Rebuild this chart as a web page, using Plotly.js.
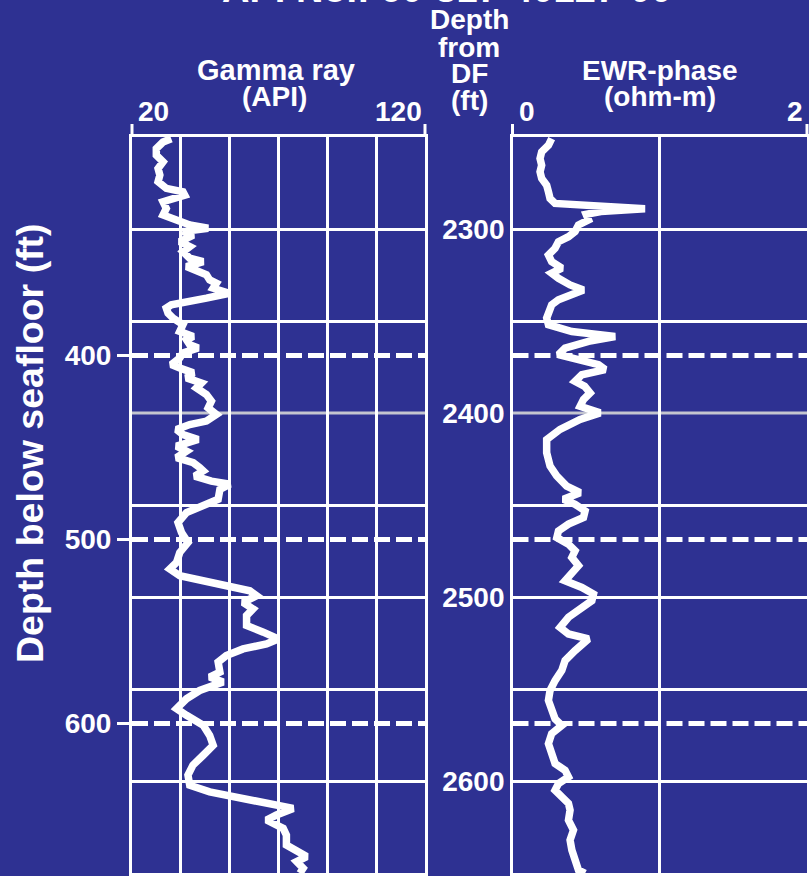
<!DOCTYPE html>
<html>
<head>
<meta charset="utf-8">
<script src="https://cdn.plot.ly/plotly-3.0.1.min.js"></script>
<style>html,body{margin:0;padding:0;background:#2e3192;}#chart{width:809px;height:876px;}</style>
</head>
<body>
<div id="chart"></div>
<script>
// ---------------- DATA ----------------
// Gamma ray log: depth from drill floor (ft) and value (API)
const grDepth = [2250.9,2252.7,2256.3,2259.9,2263.5,2267.1,2270.7,2274.3,2277.9,2279.8,2281.6,2283.4,2285.2,2288.8,2292.4,2295.1,2297.8,2299.6,2301.4,2303.3,2306.9,2309.6,2312.3,2315.9,2317.7,2320.4,2323.1,2324.9,2327.7,2329.5,2332.2,2334.9,2337.6,2339.4,2341.2,2343.0,2345.7,2348.4,2352.0,2355.7,2358.4,2360.2,2362.9,2364.7,2367.4,2370.1,2373.7,2375.5,2378.2,2380.9,2383.7,2386.4,2390.0,2393.6,2397.2,2400.8,2404.4,2406.3,2409.0,2411.7,2414.4,2418.0,2420.7,2424.3,2427.0,2429.7,2431.5,2434.3,2437.0,2438.7,2441.5,2446.9,2450.5,2454.1,2459.5,2465.0,2470.4,2475.8,2481.2,2484.8,2488.4,2491.1,2493.9,2496.6,2499.3,2502.9,2506.5,2510.1,2515.5,2519.1,2522.8,2525.5,2528.2,2531.8,2535.4,2540.8,2543.5,2546.2,2550.8,2555.3,2560.7,2564.3,2569.7,2575.2,2580.6,2586.0,2591.4,2596.8,2602.3,2605.9,2609.5,2613.1,2614.9,2618.5,2621.2,2625.7,2629.4,2634.8,2638.4,2641.1,2643.8,2647.4,2650.1];
const grValue = [33.4,30.6,28.3,28.3,30.6,28.9,29.5,28.9,31.7,37.4,38.0,32.9,30.6,31.7,30.6,35.2,39.7,46.0,37.4,40.9,36.3,39.7,37.4,39.7,44.3,38.6,42.0,45.4,46.5,48.8,47.7,53.2,45.4,39.7,33.4,31.7,32.3,34.0,37.4,36.3,40.9,38.6,39.7,42.6,37.4,36.3,33.4,36.3,40.9,38.6,43.7,42.0,45.4,47.1,46.0,48.8,45.4,39.7,35.2,37.4,42.6,35.2,38.6,35.2,40.9,43.1,44.3,41.4,47.1,53.4,50.0,49.4,43.1,38.6,35.7,36.9,39.1,36.3,35.2,32.9,36.3,43.1,52.2,60.2,62.5,57.9,61.3,59.1,59.1,64.8,69.9,65.9,57.9,52.2,49.4,50.0,46.5,51.1,43.1,38.6,35.2,38.6,44.3,46.5,47.7,44.3,40.8,39.1,39.7,46.5,59.1,70.5,75.0,69.3,65.9,71.6,72.7,72.7,76.2,79.6,76.2,78.4,77.3];

// EWR-phase resistivity log: depth from drill floor (ft) and value (ohm-m)
const ewrDepth = [2250.9,2254.5,2258.1,2261.7,2265.3,2268.9,2272.5,2276.2,2279.8,2283.4,2286.1,2287.5,2289.0,2290.5,2292.0,2295.1,2297.8,2301.4,2304.2,2306.9,2310.5,2314.1,2317.7,2321.3,2324.0,2326.8,2330.4,2333.1,2335.8,2338.5,2341.2,2344.8,2348.4,2352.0,2355.7,2358.4,2361.1,2364.7,2368.3,2371.0,2373.7,2376.4,2379.2,2382.8,2385.5,2389.1,2392.7,2396.3,2399.9,2403.5,2408.9,2414.4,2421.6,2428.8,2434.2,2439.7,2443.3,2446.9,2449.6,2453.2,2456.8,2460.4,2464.1,2467.7,2471.3,2474.9,2478.5,2483.0,2486.6,2491.2,2494.8,2498.4,2502.0,2505.6,2511.0,2516.5,2520.1,2522.8,2525.5,2529.1,2534.5,2539.9,2545.4,2550.8,2556.2,2561.6,2566.2,2569.8,2574.3,2579.7,2585.1,2590.5,2594.2,2597.8,2601.4,2605.0,2608.6,2612.2,2615.8,2621.3,2626.7,2632.1,2637.5,2642.9,2648.4,2650.2];
const ewrValue = [0.266,0.244,0.198,0.187,0.198,0.187,0.198,0.232,0.244,0.255,0.289,0.60,0.90,0.60,0.50,0.516,0.448,0.425,0.380,0.312,0.289,0.244,0.266,0.335,0.266,0.312,0.391,0.482,0.380,0.312,0.266,0.244,0.232,0.244,0.403,0.697,0.516,0.357,0.312,0.448,0.584,0.629,0.471,0.425,0.49,0.527,0.482,0.459,0.595,0.459,0.323,0.232,0.232,0.255,0.300,0.368,0.459,0.346,0.425,0.493,0.482,0.380,0.312,0.301,0.380,0.425,0.403,0.448,0.414,0.357,0.471,0.550,0.539,0.471,0.380,0.323,0.380,0.516,0.471,0.425,0.357,0.335,0.289,0.255,0.244,0.266,0.289,0.335,0.266,0.244,0.266,0.289,0.357,0.380,0.312,0.289,0.335,0.380,0.391,0.380,0.414,0.391,0.403,0.425,0.448,0.493];

// Axis ranges & ticks
const depthRange = [2250, 2650];          // depth from DF (ft)
const grRange = [20, 120];                // API
const ewrRange = [0, 2];                  // ohm-m
const dfTickLabels = [2300, 2400, 2500, 2600];
const bsfTickLabels = [400, 500, 600];    // depth below seafloor (ft)
const dfToSeafloor = 1968.7;              // DF depth of seafloor (ft)

// ---------------- LAYOUT HELPERS ----------------
const W = 809, H = 876;
const M = {l: 132, r: 2, t: 137, b: 3};
const PW = W - M.l - M.r, PH = H - M.t - M.b;
const px = p => (p - M.l) / PW;
const py = p => (H - M.b - p) / PH;

const BG = '#2e3192';
const FONT = 'Arial, "Liberation Sans", sans-serif';
const WHITE = '#ffffff';
const GREYLINE = '#c4c5cf';

const xd1 = [0, px(425)];
const xd2 = [px(512.5), 1];

const bsfDepthsDF = bsfTickLabels.map(v => v + dfToSeafloor);
const greyDepth = dfTickLabels[1];
const gridDepths = [];
for (let d = depthRange[0]; d <= depthRange[1]; d += 50) if (d !== greyDepth) gridDepths.push(d);
const grGrid = [];
for (let k = 0; k <= 6; k++) grGrid.push(grRange[0] + k * (grRange[1] - grRange[0]) / 6);

const traces = [
  {x: grValue, y: grDepth, xaxis: 'x', yaxis: 'y', mode: 'lines',
   line: {color: WHITE, width: 7.5}, hoverinfo: 'skip', showlegend: false},
  {x: ewrValue, y: ewrDepth, xaxis: 'x2', yaxis: 'y', mode: 'lines',
   line: {color: WHITE, width: 7.5}, hoverinfo: 'skip', showlegend: false},
  // invisible helpers so overlaying label axes are drawn
  {x: [grRange[0]], y: [depthRange[0]], xaxis: 'x', yaxis: 'y2', mode: 'markers',
   marker: {opacity: 0}, hoverinfo: 'skip', showlegend: false},
  {x: [ewrRange[0]], y: [depthRange[0]], xaxis: 'x2', yaxis: 'y3', mode: 'markers',
   marker: {opacity: 0}, hoverinfo: 'skip', showlegend: false}
];

const shapes = [];
// grey grid line (drawn beneath traces)
['x', 'x2'].forEach(xr => {
  const rng = xr === 'x' ? grRange : ewrRange;
  shapes.push({type: 'line', xref: xr, yref: 'y', x0: rng[0], x1: rng[1], y0: greyDepth, y1: greyDepth,
    line: {color: GREYLINE, width: 3}, layer: 'below'});
});
// dashed seafloor-depth reference lines across both tracks
bsfDepthsDF.forEach(d => {
  ['x', 'x2'].forEach(xr => {
    const rng = xr === 'x' ? grRange : ewrRange;
    shapes.push({type: 'line', xref: xr, yref: 'y', x0: rng[0], x1: rng[1], y0: d, y1: d,
      line: {color: WHITE, width: 5, dash: '16px,6px'}, layer: 'above'});
  });
});
// bracket ticks above each track
[xd1[0], xd1[1], xd2[0], xd2[1]].forEach(xx => {
  shapes.push({type: 'line', xref: 'paper', yref: 'paper', x0: xx, x1: xx, y0: 1, y1: py(124),
    line: {color: WHITE, width: 3}, layer: 'above'});
});

function ann(text, xPix, yPix, size, xanchor, extra) {
  return Object.assign({text: text, xref: 'paper', yref: 'paper', x: px(xPix), y: py(yPix),
    xanchor: xanchor || 'center', yanchor: 'middle', showarrow: false,
    font: {family: FONT, size: size, color: WHITE, weight: 'bold'}}, extra || {});
}

const annotations = [
  ann('API No.: 60-817-40127-00', 447, -11, 38),
  ann('Depth', 469, 20, 28),
  ann('from', 469, 47, 28),
  ann('DF', 469, 74, 28),
  ann('(ft)', 469, 101, 28),
  ann('Gamma ray', 276, 70, 29),
  ann('(API)', 274, 97, 28),
  ann(String(grRange[0]), 136, 111, 28, 'left'),
  ann(String(grRange[1]), 424, 111, 28, 'right'),
  ann('EWR-phase', 660, 70, 28),
  ann('(ohm-m)', 660, 97, 28),
  ann(String(ewrRange[0]), 517, 111, 28, 'left'),
  ann(String(ewrRange[1]), 805, 111, 28, 'right'),
  ann('Depth below seafloor (ft)', 30, 443, 37.5, 'center', {textangle: -90})
];

const layout = {
  width: W, height: H,
  margin: M,
  paper_bgcolor: BG, plot_bgcolor: BG,
  font: {family: FONT, color: WHITE},
  showlegend: false,
  xaxis: {domain: xd1, range: grRange, anchor: 'y',
    tickmode: 'array', tickvals: grGrid, showticklabels: false, ticks: '',
    showgrid: true, gridcolor: WHITE, gridwidth: 3, zeroline: false,
    showline: true, linecolor: WHITE, linewidth: 3, mirror: true, fixedrange: true},
  xaxis2: {domain: xd2, range: ewrRange, anchor: 'y',
    tickmode: 'linear', tick0: 0, dtick: 1, showticklabels: false, ticks: '',
    showgrid: true, gridcolor: WHITE, gridwidth: 3, zeroline: false,
    showline: true, linecolor: WHITE, linewidth: 3, mirror: true, fixedrange: true},
  yaxis: {range: [depthRange[1], depthRange[0]], anchor: 'x',
    tickmode: 'array', tickvals: gridDepths, showticklabels: false, ticks: '',
    showgrid: true, gridcolor: WHITE, gridwidth: 3, zeroline: false,
    showline: true, linecolor: WHITE, linewidth: 3, mirror: 'all', fixedrange: true},
  yaxis2: {range: [depthRange[1], depthRange[0]], overlaying: 'y', anchor: 'x', side: 'left',
    tickmode: 'array', tickvals: bsfDepthsDF, ticktext: bsfTickLabels.map(String),
    ticks: 'outside', ticklen: 14, tickwidth: 3, tickcolor: WHITE, ticklabelstandoff: 0,
    tickfont: {family: FONT, size: 28, color: WHITE, weight: 'bold'},
    showgrid: false, zeroline: false, showline: false, fixedrange: true},
  yaxis3: {range: [depthRange[1], depthRange[0]], overlaying: 'y', anchor: 'free',
    position: xd2[0], side: 'left',
    tickmode: 'array', tickvals: dfTickLabels, ticktext: dfTickLabels.map(String),
    ticks: '', ticklabelstandoff: 8,
    tickfont: {family: FONT, size: 28, color: WHITE, weight: 'bold'},
    showgrid: false, zeroline: false, showline: false, fixedrange: true},
  shapes: shapes,
  annotations: annotations
};

Plotly.newPlot('chart', traces, layout, {displayModeBar: false, staticPlot: true});
</script>
</body>
</html>
